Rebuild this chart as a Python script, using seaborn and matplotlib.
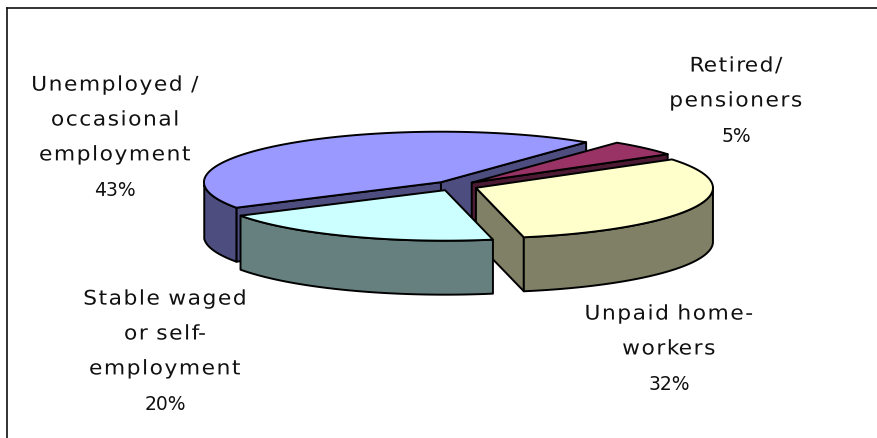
import numpy as np
import matplotlib
matplotlib.use("Agg")
import matplotlib.pyplot as plt
from matplotlib.patches import Polygon
from matplotlib.patheffects import AbstractPathEffect
from matplotlib.path import Path
import seaborn as sns

# Survey shares, listed clockwise from the starting angle
categories = ["Retired/\npensioners", "Unpaid home-\nworkers",
              "Stable waged\nor self-\nemployment",
              "Unemployed /\noccasional\nemployment"]
shares = [5, 32, 20, 43]
top_colours = ["#993366", "#FFFFCC", "#CCFFFF", "#9999FF"]
name_centres = [(736, 83.5), (669, 331.5), (165, 334), (115, 120)]
percent_centres = [(736, 136), (669, 384), (165, 404), (115, 190)]

# Painter's order: rear slices first
draw_order = [3, 0, 1, 2]

START_ANGLE = 52.2
CENTRE = (455.3, 185.9)
RX, RY = 237.0, 50.5
DEPTH = 54.0
EXPLODE = 0.095
VIEW_SKEW = 1.7          # angular shift from the oblique viewpoint, degrees
NAME_SIZE = 14.5
PERCENT_SIZE = 13.5
LETTER_WIDEN = 1.08
LETTER_GAP = 7.7         # tracking in glyph-path units (100 per em)
LINE_SPACING = 2.06

sns.set_theme(style="white")
plt.rcParams["font.family"] = ["DejaVu Sans"]
palette = sns.color_palette(top_colours)

W, H = 877, 438
fig = plt.figure(figsize=(W / 100, H / 100), dpi=100, facecolor="white")
ax = fig.add_axes([7 / W, 0, (W - 7) / W, (H - 8) / H])
ax.set_xlim(7, W)
ax.set_ylim(H, 8)
ax.set_xticks([])
ax.set_yticks([])
ax.patch.set_alpha(0)
for name, spine in ax.spines.items():
    spine.set_visible(name in ("left", "top"))
    spine.set_color("#111111")
    spine.set_linewidth(1.2)


class WideTracking(AbstractPathEffect):
    """Widens the glyphs and opens the letter spacing of each line about its centre."""

    def __init__(self, widen, gap):
        super().__init__()
        self.widen = widen
        self.gap = gap

    def draw_path(self, renderer, gc, tpath, affine, rgbFace=None):
        verts, codes = tpath.vertices.copy(), tpath.codes
        centre = (verts[:, 0].min() + verts[:, 0].max()) / 2
        starts = list(np.flatnonzero(codes == Path.MOVETO)) + [len(verts)]
        contours = [(verts[a:b, 0].min(), verts[a:b, 0].max(), a, b)
                    for a, b in zip(starts[:-1], starts[1:])]
        contours.sort()
        verts[:, 0] = centre + (verts[:, 0] - centre) * self.widen
        # Contours overlapping horizontally belong to one glyph
        glyph, reach = -1, -np.inf
        for lo, hi, a, b in contours:
            if lo >= reach:
                glyph += 1
            reach = max(reach, hi)
            verts[a:b, 0] += glyph * self.gap
        verts[:, 0] -= glyph * self.gap / 2
        renderer.draw_path(gc, Path(verts, codes), affine, rgbFace)


def view_angle(a):
    return a + VIEW_SKEW * (1 - np.cos(np.radians(a - 43)))


def rim_point(apex, angle_deg):
    t = np.radians(view_angle(angle_deg))
    return apex[0] + RX * np.cos(t), apex[1] - RY * np.sin(t)


def arc(apex, a1, a2, n=120):
    x, y = rim_point(apex, np.linspace(a1, a2, n))
    return np.column_stack([x, y])


def face(points, colour, z):
    ax.add_patch(Polygon(points, closed=True, facecolor=colour, edgecolor="black",
                         linewidth=1.4, joinstyle="round", zorder=z))


# Slice spans, running clockwise
edges = START_ANGLE - np.cumsum([0] + shares) * 3.6

for step, i in enumerate(draw_order):
    t1, t2 = edges[i], edges[i + 1]
    mid = np.radians((t1 + t2) / 2)
    apex = (CENTRE[0] + EXPLODE * RX * np.cos(mid),
            CENTRE[1] - EXPLODE * RY * np.sin(mid))
    top = np.array(palette[i])
    side = tuple(top * 0.5)
    z = 2 + step
    drop = np.array([0, DEPTH])

    # Radial cut faces that turn toward the viewer
    for angle, visible in ((t1, np.cos(np.radians(t1)) < 0),
                           (t2, np.cos(np.radians(t2)) > 0)):
        if visible:
            a = np.array(apex)
            b = np.array(rim_point(apex, angle))
            face([a, b, b + drop, a + drop], side, z)

    # Outer wall: the part of the rim on the near half of the ellipse
    for k in (0, -1):
        lo, hi = max(t2, -180 + 360 * k), min(t1, 0 + 360 * k)
        if hi > lo:
            rim = arc(apex, hi, lo)
            face(np.vstack([rim, (rim + drop)[::-1]]), side, z)

    # Top surface
    face(np.vstack([[apex], arc(apex, t1, t2)]), top, z)

# Category names with their percentages
for name, share, (nx, ny), (px, py) in zip(categories, shares, name_centres, percent_centres):
    ax.text(nx, ny, name, ha="center", va="center", color="#111111",
            fontsize=NAME_SIZE, linespacing=LINE_SPACING, zorder=10,
            path_effects=[WideTracking(LETTER_WIDEN, LETTER_GAP)])
    ax.text(px, py, f"{share}%", ha="center", va="center", color="#111111",
            fontsize=PERCENT_SIZE, zorder=10)

fig.savefig("out.png", dpi=100, facecolor="white")
